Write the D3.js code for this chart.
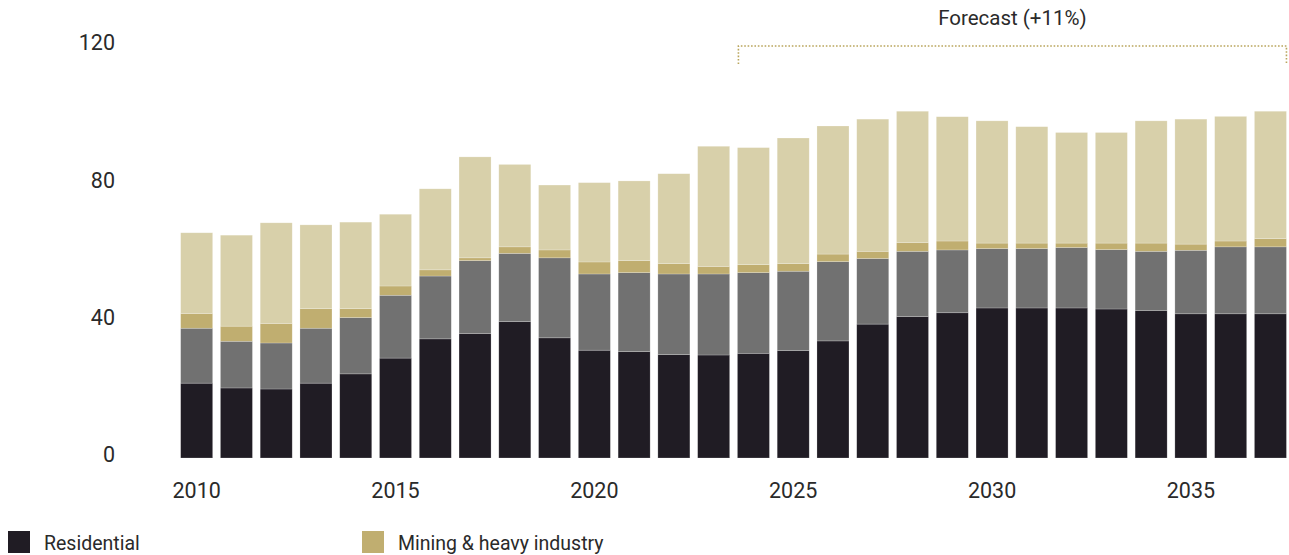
<!DOCTYPE html>
<html>
<head>
<meta charset="utf-8">
<script src="https://cdn.jsdelivr.net/npm/d3@7"></script>
<style>
  body { margin: 0; background: #fff; }
  svg { display: block; font-family: Roboto, "Noto Sans", sans-serif; }
  .tick text { fill: #2a2a2a; }
</style>
</head>
<body>
<svg id="chart"></svg>
<script>
// chart size = browser window
const width = 1289, height = 555;

/********* data *********/
const years = d3.range(2010, 2038);
const residential = [21.8, 20.4, 20.1, 21.8, 24.5, 29.1, 34.7, 36.2, 39.7, 35.0, 31.4, 31.0, 30.1, 30.0,
                     30.5, 31.3, 34.1, 39.0, 41.2, 42.3, 43.7, 43.7, 43.7, 43.4, 42.9, 42.0, 42.0, 42.0];
const otherGrey   = [16.0, 13.6, 13.4, 16.0, 16.4, 18.3, 18.3, 21.3, 19.9, 23.3, 22.2, 23.0, 23.5, 23.6,
                     23.5, 23.1, 23.1, 19.1, 19.0, 18.3, 17.3, 17.3, 17.6, 17.3, 17.3, 18.5, 19.5, 19.5];
const mining      = [ 4.3,  4.4,  5.7,  5.7,  2.6,  2.7,  1.8,  0.8,  1.9,  2.3,  3.5,  3.5,  3.0,  2.2,
                      2.3,  2.2,  2.2,  2.1,  2.5,  2.6,  1.6,  1.6,  1.3,  1.9,  2.4,  1.8,  1.7,  2.4];
const otherLight  = [23.5, 26.5, 29.3, 24.4, 25.2, 20.9, 23.6, 29.4, 24.0, 18.9, 23.1, 23.2, 26.2, 35.0,
                     34.1, 36.6, 37.3, 38.5, 38.3, 36.2, 35.6, 33.9, 32.2, 32.2, 35.6, 36.4, 36.3, 37.1];
const seriesKeys   = ["residential", "otherGrey", "mining", "otherLight"];
const seriesColors = ["#201c24", "#717171", "#c0ae70", "#d8d0aa"];
const yTicks = [0, 40, 80, 120];
const xTicks = [2010, 2015, 2020, 2025, 2030, 2035];
const forecastYears = [2024, 2037];
const forecastLabel = "Forecast (+11%)";
const legendItems = [
  { label: "Residential", color: "#201c24" },
  { label: "Mining & heavy industry", color: "#c0ae70" }
];

const rows = years.map((yr, i) => ({
  year: yr,
  residential: residential[i],
  otherGrey: otherGrey[i],
  mining: mining[i],
  otherLight: otherLight[i]
}));

/********* scales *********/
const svg = d3.select("#chart").attr("width", width).attr("height", height);

const x = d3.scaleBand()
  .domain(years)
  .range([172.9, 1294.2])
  .paddingInner(0.195)
  .paddingOuter(0.195);

const y = d3.scaleLinear()
  .domain([0, 120])
  .range([458, 46]);

const color = d3.scaleOrdinal().domain(seriesKeys).range(seriesColors);
const stacked = d3.stack().keys(seriesKeys)(rows);

/********* bars *********/
svg.append("g")
  .selectAll("g")
  .data(stacked)
  .join("g")
    .attr("fill", d => color(d.key))
  .selectAll("rect")
  .data(d => d)
  .join("rect")
    .attr("x", d => x(d.data.year))
    .attr("y", d => y(d[1]))
    .attr("width", x.bandwidth())
    .attr("height", d => y(d[0]) - y(d[1]))
    .attr("stroke", "#fff")
    .attr("stroke-opacity", 0.35)
    .attr("stroke-width", 0.6);

/********* axes (labels only) *********/
const yAxis = svg.append("g")
  .attr("transform", "translate(115,-3)")
  .call(d3.axisLeft(y).tickValues(yTicks).tickSize(0).tickPadding(0));
yAxis.select(".domain").remove();
yAxis.selectAll("text").attr("font-size", 21.5)
  .attr("font-family", "Roboto, sans-serif");

const xAxis = svg.append("g")
  .attr("transform", "translate(0,479)")
  .call(d3.axisBottom(x).tickValues(xTicks).tickSize(0).tickPadding(0));
xAxis.select(".domain").remove();
xAxis.selectAll("text").attr("font-size", 21.5)
  .attr("dy", "0.9em").attr("font-family", "Roboto, sans-serif");

/********* forecast bracket *********/
const fx0 = x(forecastYears[0]) + 1;
const fx1 = x(forecastYears[1]) + x.bandwidth();
const fy = 46, fyEnd = 64;
svg.append("path")
  .attr("d", `M${fx0},${fyEnd}V${fy}H${fx1}V${fyEnd}`)
  .attr("fill", "none")
  .attr("stroke", "#b9a55c")
  .attr("stroke-width", 1.6)
  .attr("stroke-dasharray", "1.6,1.8");

svg.append("text")
  .attr("x", (fx0 + fx1) / 2)
  .attr("y", 25)
  .attr("text-anchor", "middle")
  .attr("font-size", 20.5)
  .attr("fill", "#2a2a2a")
  .text(forecastLabel);

/********* legend (cut off at the bottom like the reference) *********/
const legendX = [8, 362];
const lg = svg.append("g");
legendItems.forEach((item, i) => {
  lg.append("rect")
    .attr("x", legendX[i]).attr("y", 531)
    .attr("width", 22).attr("height", 22)
    .attr("fill", item.color);
  lg.append("text")
    .attr("x", legendX[i] + 36).attr("y", 550)
    .attr("font-size", 19.5)
    .attr("fill", "#2a2a2a")
    .text(item.label);
});
</script>
</body>
</html>
